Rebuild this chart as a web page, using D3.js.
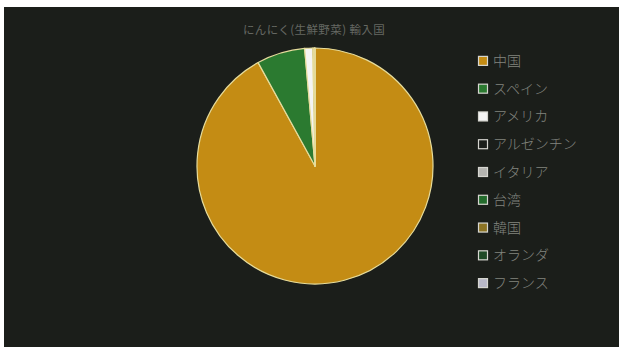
<!DOCTYPE html>
<html>
<head>
<meta charset="utf-8">
<script src="https://cdn.jsdelivr.net/npm/d3@7"></script>
<style>
  html, body { margin: 0; padding: 0; background: #ffffff; }
  svg { display: block; }
</style>
</head>
<body>
<svg id="chart" width="621" height="349"></svg>
<script>
// Garlic (fresh vegetable) import share by country of origin
const title = "にんにく(生鮮野菜) 輸入国";
const countries = ["中国", "スペイン", "アメリカ", "アルゼンチン", "イタリア", "台湾", "韓国", "オランダ", "フランス"];
const shares = [92.0, 6.6, 1.1, 0.15, 0.06, 0.04, 0.03, 0.01, 0.01];
const fills = ["#c48c14", "#2b7a30", "#f4f4f4", "#1c1f1b", "#b4b4b0", "#236b2c", "#8c7424", "#1f4a26", "#b8b8c8"];

const data = countries.map((c, i) => ({ name: c, value: shares[i], fill: fills[i] }));

const svg = d3.select("#chart");
const font = "'Noto Sans CJK JP', 'Noto Sans', sans-serif";

// dark chart panel
svg.append("rect")
  .attr("x", 4).attr("y", 7)
  .attr("width", 615).attr("height", 340)
  .attr("fill", "#1b1e1a");

svg.append("text")
  .attr("x", 314).attr("y", 34)
  .attr("text-anchor", "middle")
  .attr("font-family", font)
  .attr("font-size", 11.5)
  .attr("letter-spacing", 0.4)
  .attr("fill", "#656862")
  .text(title);

// pie, first slice starts at 12 o'clock going clockwise
const cx = 315, cy = 166, r = 118;
const pie = d3.pie().value(d => d.value).sort(null);
const arc = d3.arc().innerRadius(0).outerRadius(r);

const g = svg.append("g").attr("transform", `translate(${cx},${cy})`);
g.selectAll("path")
  .data(pie(data))
  .join("path")
  .attr("d", arc)
  .attr("fill", d => d.data.fill)
  .attr("stroke", "#e6dc9c")
  .attr("stroke-width", 1.2)
  .attr("stroke-linejoin", "round");

// legend
const legendY = d3.scaleBand()
  .domain(countries)
  .range([47, 297]);

const lg = svg.append("g");
const item = lg.selectAll("g")
  .data(data)
  .join("g")
  .attr("transform", d => `translate(483,${legendY(d.name) + legendY.bandwidth() / 2})`);

item.append("rect")
  .attr("x", -4.5).attr("y", -4.5)
  .attr("width", 9).attr("height", 9)
  .attr("fill", d => d.fill)
  .attr("stroke", "#d6d6d0")
  .attr("stroke-width", 1.2);

item.append("text")
  .attr("x", 10).attr("y", 0)
  .attr("dy", "0.36em")
  .attr("font-family", font)
  .attr("font-size", 14)
  .attr("font-weight", 300)
  .attr("fill", "#82847f")
  .text(d => d.name);
</script>
</body>
</html>
